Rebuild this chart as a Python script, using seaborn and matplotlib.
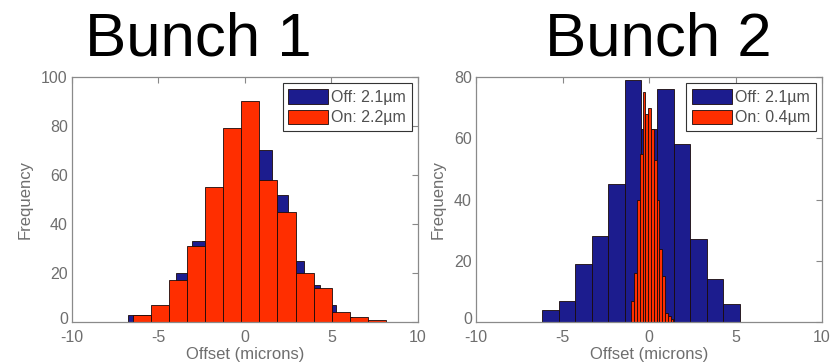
import numpy as np
import pandas as pd
import matplotlib
matplotlib.use("Agg")
import matplotlib.pyplot as plt
import matplotlib.transforms as mtransforms
from matplotlib.patches import Patch
import seaborn as sns

# ---------------- data ----------------
titles = ["Bunch 1", "Bunch 2"]

# Bunch 1 - feedback off (blue)
b1_off_edges = np.linspace(-6.74, 6.17, 15)
b1_off_counts = [3, 3, 6, 20, 33, 48, 75, 68, 70, 52, 25, 15, 7, 2]
# Bunch 1 - feedback on (red)
b1_on_edges = np.linspace(-6.49, 8.15, 15)
b1_on_counts = [3, 7, 17, 31, 55, 79, 90, 58, 45, 20, 14, 4, 2, 1]

# Bunch 2 - feedback off (blue)
b2_off_edges = np.linspace(-6.17, 5.24, 13)
b2_off_counts = [4, 7, 19, 28, 45, 79, 63, 76, 58, 27, 14, 6]
# Bunch 2 - feedback on (red)
b2_on_edges = np.linspace(-1.02, 1.41, 16)
b2_on_counts = [7, 16, 40, 55, 75, 68, 70, 63, 53, 40, 24, 15, 3, 2, 1]

legend_labels = [["Off: 2.1\u00b5m", "On: 2.2\u00b5m"],
                 ["Off: 2.1\u00b5m", "On: 0.4\u00b5m"]]
x_ticks = [-10, -5, 0, 5, 10]
y_ticks = [[0, 20, 40, 60, 80, 100], [0, 20, 40, 60, 80]]
y_max = [100, 80]
x_label = "Offset (microns)"
y_label = "Frequency"

# ---------------- style ----------------
sns.set_style("white")
plt.rcParams["font.family"] = ["Liberation Sans", "DejaVu Sans"]
plt.rcParams["axes.unicode_minus"] = False

BLUE = "#1c1c8e"
RED = "#ff2e00"
GRAY = "#6e6e6e"

fig = plt.figure(figsize=(8.31, 3.63), dpi=100)
axes = [fig.add_axes([0.0866, 0.1129, 0.4164, 0.675]),
        fig.add_axes([0.5728, 0.1129, 0.4164, 0.675])]

data = [((b1_off_edges, b1_off_counts), (b1_on_edges, b1_on_counts)),
        ((b2_off_edges, b2_off_counts), (b2_on_edges, b2_on_counts))]

for i, ax in enumerate(axes):
    (eo, co), (en, cn) = data[i]
    for edges, counts, col in ((eo, co, BLUE), (en, cn, RED)):
        edges = [float(e) for e in edges]
        centers = [(a + b) / 2 for a, b in zip(edges[:-1], edges[1:])]
        df = pd.DataFrame({"offset": centers,
                           "count": [float(c) for c in counts]})
        sns.histplot(data=df, x="offset", weights="count", bins=edges,
                     color=col, alpha=1, edgecolor="#1a0a0a",
                     linewidth=0.6, ax=ax)
    ax.set_xlim(-10, 10)
    ax.set_ylim(0, y_max[i])
    ax.set_xticks(x_ticks)
    ax.set_yticks(y_ticks[i])
    ax.tick_params(direction="in", top=True, right=True, length=4,
                   width=0.8, color="#888888", labelcolor=GRAY,
                   labelsize=11.5)
    ax.tick_params(axis="x", pad=6)
    ax.tick_params(axis="y", pad=3)
    # lift the y "0" label slightly so it sits above the "-10" x label
    lbl0 = ax.get_yticklabels()[0]
    lbl0.set_transform(lbl0.get_transform() +
                       mtransforms.ScaledTranslation(0, 3 / 72, fig.dpi_scale_trans))
    for s in ax.spines.values():
        s.set_color("#8a8a8a")
        s.set_linewidth(0.9)
    ax.set_xlabel(x_label, fontsize=12, color=GRAY, labelpad=1.5)
    ax.set_ylabel(y_label, fontsize=12, color=GRAY, labelpad=6)
    handles = [Patch(facecolor=BLUE, edgecolor="#1a0a0a", linewidth=0.6),
               Patch(facecolor=RED, edgecolor="#1a0a0a", linewidth=0.6)]
    leg = ax.legend(handles, legend_labels[i], loc="upper right",
                    fontsize=11.5, handlelength=2.5, handleheight=1.05,
                    handletextpad=0.2, borderpad=0.35, labelspacing=0.3,
                    fancybox=False, framealpha=1, borderaxespad=0.4)
    leg.get_frame().set_edgecolor("#333333")
    leg.get_frame().set_linewidth(0.8)
    for t in leg.get_texts():
        t.set_color("#505050")

fig.text(0.2383, 1 - 55 / 363, titles[0], ha="center", va="baseline",
         fontsize=44.5, color="black")
fig.text(0.7918, 1 - 55 / 363, titles[1], ha="center", va="baseline",
         fontsize=44.5, color="black")

fig.savefig("out.png", dpi=100)
